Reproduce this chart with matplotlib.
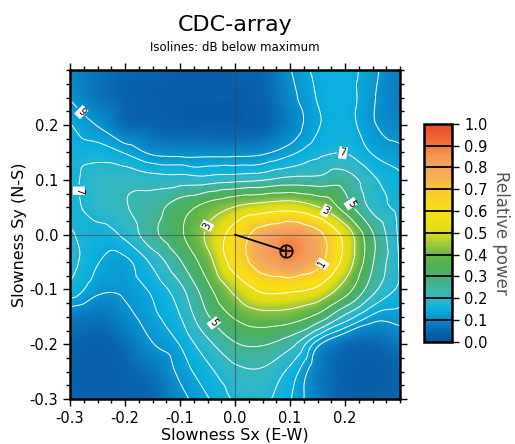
import numpy as np
import matplotlib
matplotlib.use("Agg")
import matplotlib.pyplot as plt
import matplotlib.tri as mtri
from matplotlib.colors import LinearSegmentedColormap
from matplotlib.ticker import MultipleLocator

# slowness grid (s/km), rows run from north (+0.3) to south (-0.3)
sx = np.round(np.linspace(-0.3, 0.3, 13), 3)
sy = sx[::-1]

# relative beam power on the grid
power = np.array([
    [0.088, 0.066, 0.050, 0.044, 0.039, 0.039, 0.039, 0.055, 0.110, 0.149, 0.154, 0.121, 0.077],
    [0.110, 0.072, 0.050, 0.039, 0.033, 0.033, 0.033, 0.050, 0.099, 0.143, 0.154, 0.116, 0.077],
    [0.143, 0.110, 0.061, 0.050, 0.039, 0.033, 0.033, 0.044, 0.088, 0.138, 0.154, 0.116, 0.094],
    [0.160, 0.160, 0.138, 0.105, 0.099, 0.099, 0.099, 0.105, 0.132, 0.165, 0.176, 0.138, 0.121],
    [0.165, 0.198, 0.209, 0.198, 0.198, 0.198, 0.209, 0.220, 0.242, 0.242, 0.253, 0.187, 0.149],
    [0.165, 0.198, 0.220, 0.253, 0.319, 0.385, 0.451, 0.495, 0.517, 0.451, 0.319, 0.209, 0.160],
    [0.182, 0.160, 0.187, 0.264, 0.341, 0.462, 0.616, 0.770, 0.847, 0.748, 0.517, 0.286, 0.165],
    [0.193, 0.143, 0.132, 0.187, 0.275, 0.407, 0.616, 0.781, 0.858, 0.748, 0.517, 0.286, 0.171],
    [0.165, 0.121, 0.121, 0.149, 0.209, 0.330, 0.473, 0.583, 0.583, 0.539, 0.396, 0.242, 0.165],
    [0.083, 0.072, 0.099, 0.132, 0.176, 0.275, 0.363, 0.407, 0.396, 0.330, 0.209, 0.132, 0.127],
    [0.055, 0.044, 0.066, 0.110, 0.143, 0.209, 0.275, 0.286, 0.242, 0.121, 0.066, 0.055, 0.077],
    [0.044, 0.039, 0.050, 0.072, 0.121, 0.165, 0.209, 0.215, 0.165, 0.083, 0.044, 0.033, 0.050],
    [0.050, 0.044, 0.050, 0.055, 0.099, 0.138, 0.182, 0.187, 0.143, 0.083, 0.044, 0.039, 0.050],
])

# best beam (slowness vector of the maximum)
beam_sx, beam_sy = 0.093, -0.030

# isolines in dB below maximum, and where their labels sit
db_plain = [2, 4, 6, 8]
db_labelled = [1, 3, 5, 7, 9]
label_pos = [(-0.279, 0.224), (-0.268, 0.080), (0.198, 0.168), (0.224, 0.065),
             (-0.051, -0.171), (-0.056, 0.019), (0.166, 0.046), (0.166, -0.058)]

cbar_ticks = [0.0, 0.1, 0.2, 0.3, 0.4, 0.5, 0.6, 0.7, 0.8, 0.9, 1.0]

cmap = LinearSegmentedColormap.from_list("relpow", [
    (0.00, "#0a5298"), (0.05, "#0866b0"), (0.10, "#0a8ccc"), (0.15, "#0ab0e0"),
    (0.20, "#30b8c8"), (0.25, "#40b4a0"), (0.30, "#48b070"), (0.35, "#50b050"),
    (0.40, "#6cb848"), (0.45, "#a0c838"), (0.50, "#e0dc18"), (0.60, "#fae016"),
    (0.70, "#fbc830"), (0.75, "#f8b050"), (0.80, "#f5a462"), (0.85, "#f49a58"),
    (0.90, "#f17a38"), (1.00, "#e84828")])

plt.rcParams['font.family'] = ['DejaVu Sans']

# smooth surface through the grid values
X, Y = np.meshgrid(sx, sy)
tri = mtri.Triangulation(X.ravel(), Y.ravel())
interp = mtri.CubicTriInterpolator(tri, power.ravel(), kind='geom')
xf = np.linspace(-0.3, 0.3, 301)
XF, YF = np.meshgrid(xf, xf)
ZF = np.clip(np.asarray(interp(XF, YF)), 0.005, None)
DB = -10 * np.log10(ZF / ZF.max())

fig = plt.figure(figsize=(5.15, 4.44), dpi=100)
ax = fig.add_axes([0.136, 0.101, 0.641, 0.741])

img = ax.imshow(ZF, extent=(-0.3, 0.3, -0.3, 0.3), origin='lower', cmap=cmap,
                vmin=0, vmax=1, interpolation='bilinear', aspect='auto')
ax.contour(XF, YF, DB, levels=db_plain, colors='white', linewidths=0.7)
cs = ax.contour(XF, YF, DB, levels=db_labelled, colors='white', linewidths=0.7)
labels = ax.clabel(cs, manual=label_pos, fmt='%d', fontsize=7,
                   inline=True, inline_spacing=3)
for t in labels:
    t.set_color('black')
    t.set_bbox(dict(facecolor='white', edgecolor='none', pad=0.8))

ax.axhline(0, color='#404040', lw=0.8, alpha=0.6)
ax.axvline(0, color='#404040', lw=0.8, alpha=0.6)

ax.plot([0, beam_sx], [0, beam_sy], color='black', lw=1.3)
ax.plot(beam_sx, beam_sy, marker='o', ms=9, mfc='none', mec='black', mew=1.2)
ax.plot(beam_sx, beam_sy, marker='+', ms=9, color='black', mew=1.2)

ax.set_xlim(-0.3, 0.3)
ax.set_ylim(-0.3, 0.3)
ticks = [-0.3, -0.2, -0.1, 0.0, 0.1, 0.2]
ax.set_xticks(ticks)
ax.set_yticks(ticks)
ax.set_xticklabels([f"{t:.1f}" for t in ticks])
ax.set_yticklabels([f"{t:.1f}" for t in ticks])
ax.xaxis.set_minor_locator(MultipleLocator(0.025))
ax.yaxis.set_minor_locator(MultipleLocator(0.025))
ax.tick_params(which='both', direction='out', top=True, right=True, labelsize=10.5, width=1)
ax.tick_params(which='major', length=5)
ax.tick_params(which='minor', length=3)
for sp in ax.spines.values():
    sp.set_linewidth(1.8)

ax.set_xlabel("Slowness Sx (E-W)", fontsize=11.5, labelpad=1)
ax.set_ylabel("Slowness Sy (N-S)", fontsize=11.5, labelpad=2)

fig.text(0.456, 0.943, "CDC-array", ha='center', va='center', fontsize=16)
fig.text(0.456, 0.894, "Isolines: dB below maximum", ha='center', va='center', fontsize=8.5)

cax = fig.add_axes([0.823, 0.230, 0.055, 0.491])
cb = fig.colorbar(img, cax=cax, ticks=cbar_ticks)
cb.ax.set_yticklabels([f"{t:.1f}" for t in cbar_ticks])
cb.ax.tick_params(labelsize=10.5, length=5, width=1, direction='out')
for t in cbar_ticks[1:-1]:
    cb.ax.axhline(t, color='black', lw=1.3)
cb.outline.set_linewidth(1.8)
cb.set_label("Relative power", rotation=270, fontsize=12, color='#555555', labelpad=16)

fig.savefig("out.png", dpi=100)
